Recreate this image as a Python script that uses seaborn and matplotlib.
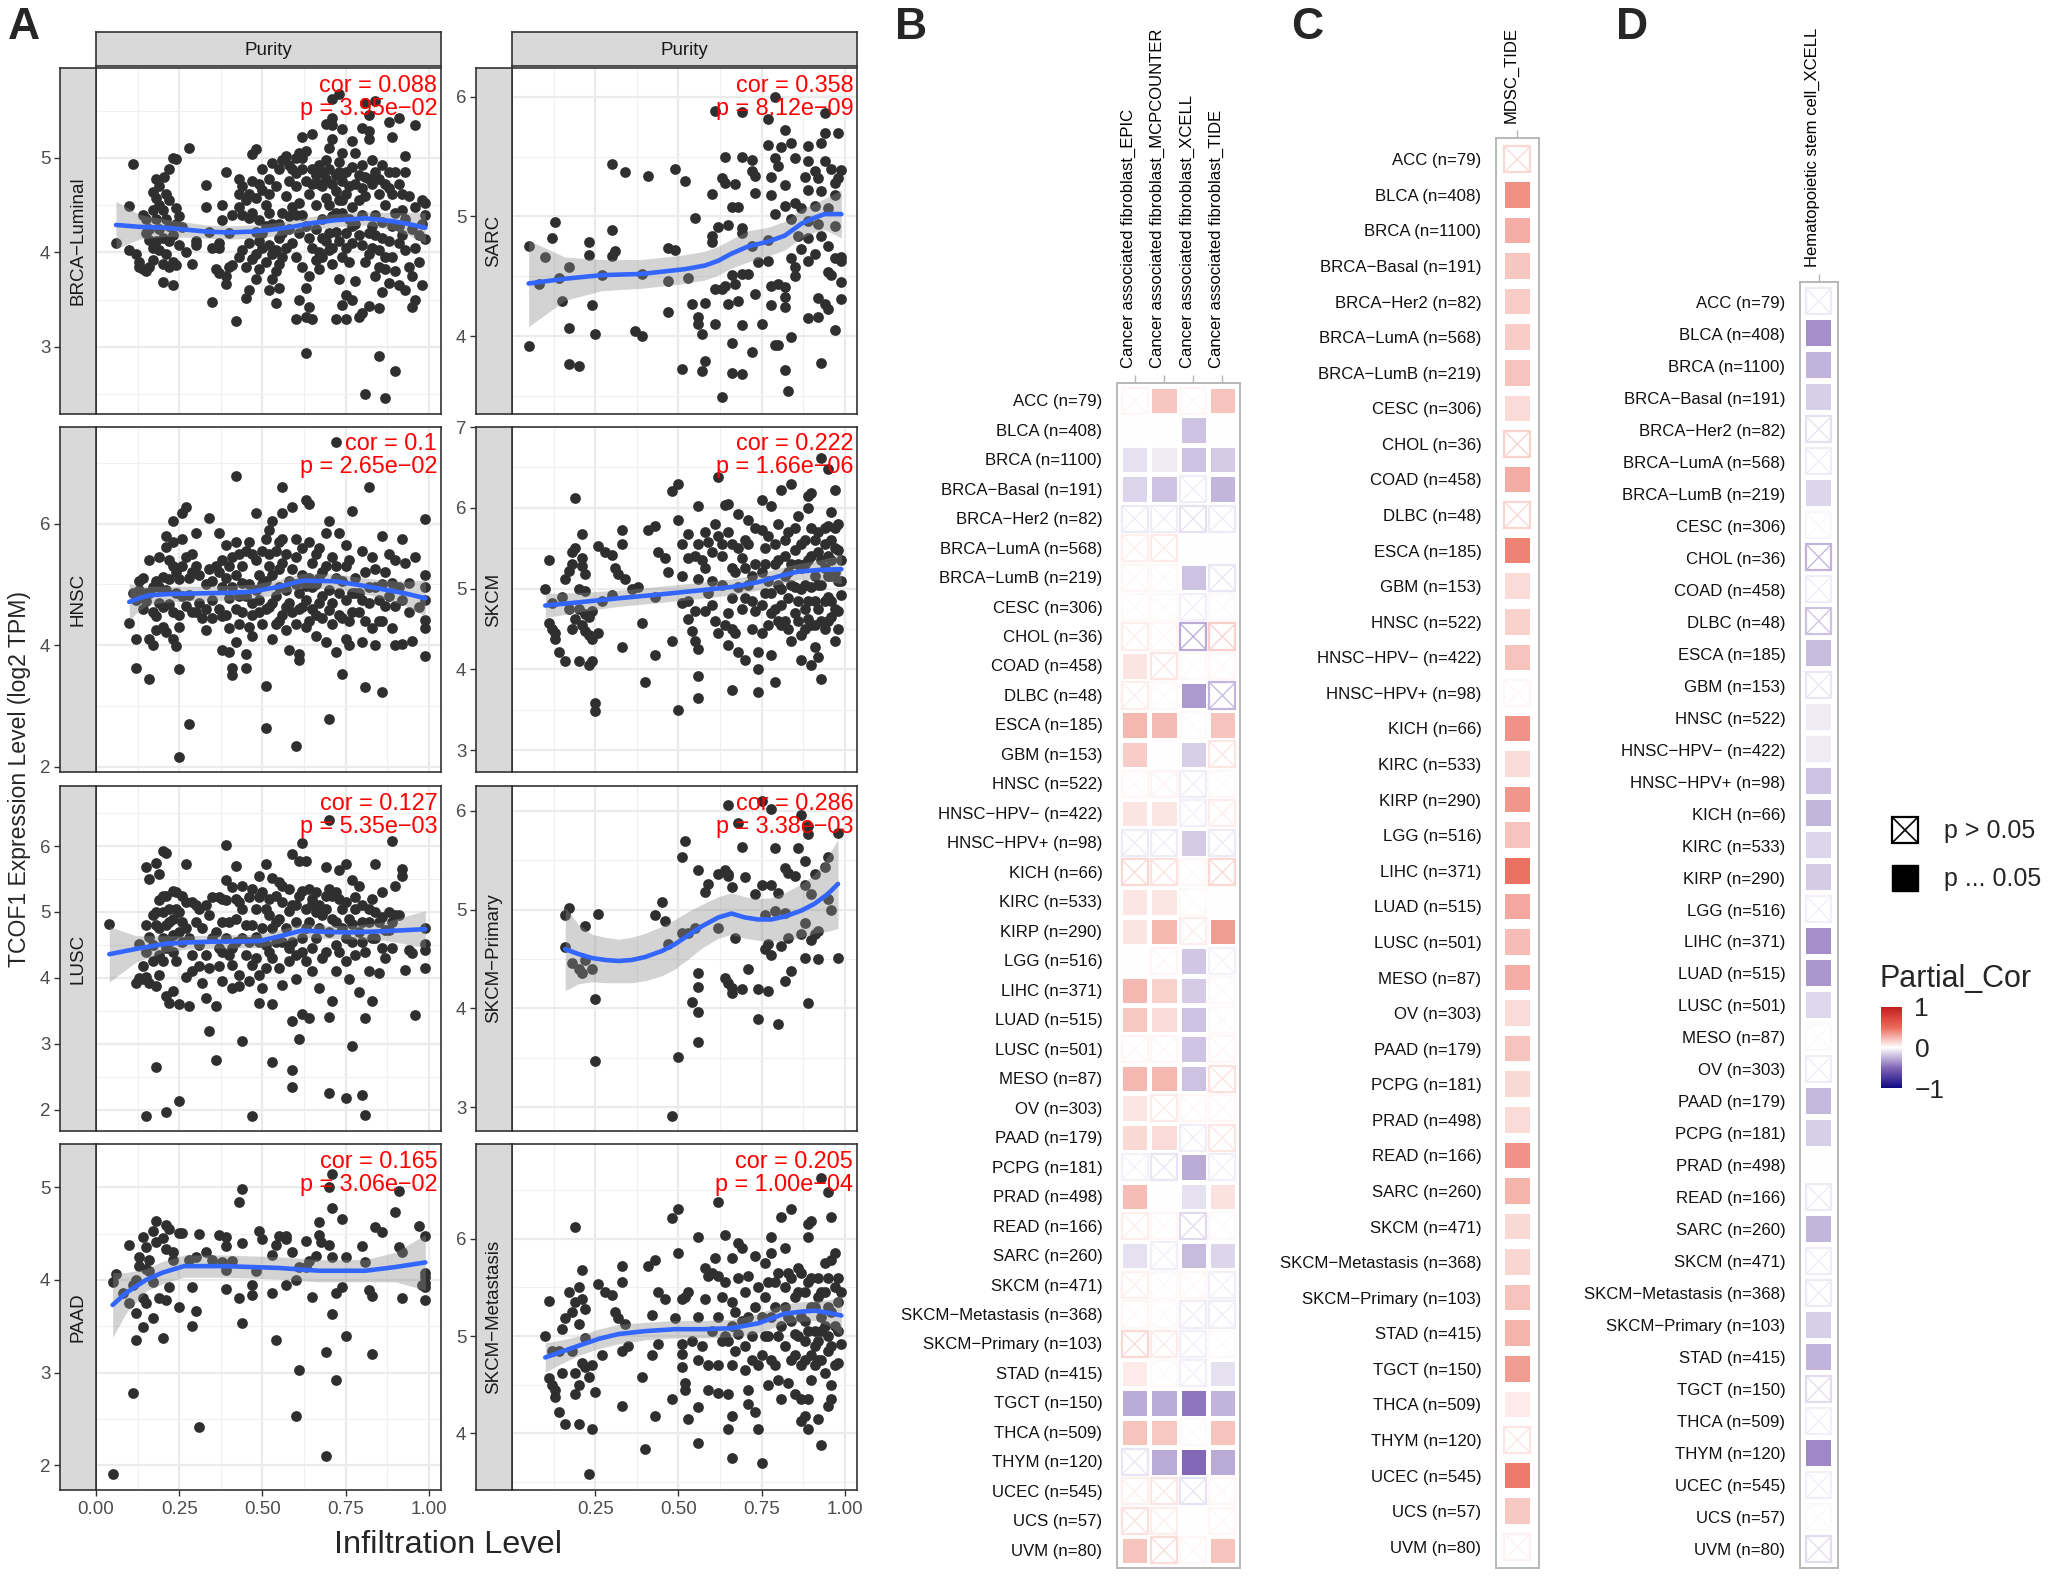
import matplotlib
matplotlib.use("Agg")
import matplotlib.pyplot as plt
import seaborn as sns
import numpy as np
import pandas as pd

from matplotlib.cm import ScalarMappable
from matplotlib.colors import LinearSegmentedColormap, Normalize
from matplotlib.patches import Rectangle
from matplotlib.ticker import AutoMinorLocator
from matplotlib.transforms import ScaledTranslation

W, H = 2050, 1576

# scatter points (infiltration, expression)
brca_pts = [(.06,4.10),(.10,4.49),(.11,4.93),(.10,4.03),(.12,3.98),(.13,3.90),(.13,3.85),(.14,3.82),(.15,3.80),(.16,3.85),(.17,3.92),(.14,4.40),(.15,4.35),(.17,4.64),(.18,4.58),(.18,4.78),(.19,4.70),(.205,4.80),(.21,4.62),(.22,4.88),(.22,4.55),(.23,5.0),(.24,4.99),(.20,4.45),(.21,4.35),(.24,4.47),(.16,4.13),(.18,4.12),(.20,4.15),(.22,4.12),(.25,4.08),(.19,4.02),(.21,3.98),(.23,3.90),(.20,3.88),(.22,3.85),(.24,3.87),(.20,3.69),(.23,3.65),(.28,5.10),(.29,3.88),(.26,4.27),(.27,4.0),(.30,4.12),(.30,4.08),(.25,4.38),(.33,4.71),(.33,4.48),(.34,4.22),(.35,4.05),(.37,4.10),(.38,4.34),(.37,4.05),(.36,3.82),(.37,3.78),(.39,3.75),(.39,3.66),(.40,3.85),(.41,3.87),(.35,3.48),(.42,3.27),(.39,4.85),
(.43,4.78),(.44,4.70),(.43,4.62),(.45,4.55),(.43,4.48),(.44,4.40),(.46,4.36),(.48,5.09),(.47,5.04),(.50,4.88),(.53,4.95),(.52,4.78),(.50,4.66),(.48,4.58),(.51,4.50),(.47,4.42),(.49,4.34),(.46,4.10),(.44,4.02),(.43,3.95),(.47,3.93),(.45,3.85),(.49,3.82),(.48,3.72),(.46,3.60),(.45,3.52),(.52,4.08),(.53,3.98),(.51,3.90),(.54,3.80),(.53,3.72),(.52,3.60),(.55,3.62),(.54,3.46),(.55,4.30),(.56,4.42),(.57,4.60),(.58,4.75),(.58,4.92),(.60,5.00),(.61,5.05),(.62,5.00),(.63,5.07),(.65,4.88),(.65,5.25),(.62,5.22),(.60,4.40),(.61,4.20),(.59,4.10),(.60,3.95),(.62,3.85),(.64,3.75),(.63,3.62),(.61,3.50),(.64,3.42),(.65,3.30),(.60,3.30),(.63,3.32),(.67,4.00),(.66,4.25),(.66,4.50),(.67,4.72),(.68,4.85),(.69,4.98),(.70,5.10),(.71,5.20),(.71,5.35),(.69,5.36),(.71,5.42),(.71,5.62),(.73,5.68),(.74,5.30),(.74,5.05),(.73,4.85),(.72,4.65),(.72,4.42),(.70,4.20),(.70,4.02),(.71,3.88),(.73,3.72),(.75,3.55),(.74,3.44),(.72,3.30),(.75,3.30),(.79,3.32),(.80,3.36),(.82,3.43),(.85,3.41),(.77,3.50),(.78,3.70),(.76,3.90),(.77,4.10),(.78,4.30),(.77,4.48),(.76,4.70),(.77,4.90),(.78,5.05),(.77,5.18),(.80,5.32),(.82,5.28),(.82,5.45),(.81,5.58),(.84,5.60),(.82,5.20),(.83,4.98),(.82,4.78),(.81,4.60),(.80,4.40),(.82,4.20),(.83,4.05),(.81,3.90),(.84,3.75),(.86,3.58),(.88,5.38),(.91,5.42),(.96,5.35),(.89,5.22),(.93,5.02),(.90,4.85),(.88,4.68),(.87,4.50),(.89,4.28),(.88,4.12),(.87,3.95),(.90,3.80),(.91,3.65),(.93,3.60),(.93,4.85),(.94,4.60),(.92,4.45),(.95,4.25),(.96,4.05),(.97,3.90),(.98,3.65),(.96,3.50),(.95,3.42),(.98,4.55),(.99,4.52),(.96,4.48),(.99,4.40),(.98,4.30),(.97,4.18),(.99,4.14),(.63,2.94),(.85,2.90),(.90,2.75),(.81,2.50),(.87,2.46),(.56,4.20),(.58,4.25),(.68,4.35),(.75,4.20),(.79,4.55),(.84,4.40),(.86,4.15),(.91,4.10),(.69,4.58),(.74,4.55),(.64,4.62),(.60,4.70),(.55,4.15),(.50,4.20),(.41,4.40),(.40,4.20),(.38,4.50),
(.16,4.25),(.18,4.35),(.19,4.25),(.15,4.20),(.17,4.05),(.22,4.28),(.23,4.18),(.24,4.30),(.17,4.45),(.19,4.50),(.46,4.62),(.47,4.75),(.49,4.72),(.52,4.62),(.54,4.70),(.55,4.88),(.56,4.98),(.57,5.02),(.59,4.88),(.60,4.84),(.62,4.88),(.63,4.75),(.65,4.72),(.66,4.82),(.67,4.92),(.68,4.70),(.69,4.78),(.70,4.88),(.71,4.72),(.72,4.82),(.73,4.96),(.74,4.75),(.75,4.85),(.75,4.62),(.78,4.72),(.79,4.82),(.80,4.92),(.80,4.68),(.81,4.80),(.83,4.72),(.84,4.85),(.85,4.62),(.85,4.78),(.86,4.92),(.87,4.72),(.88,4.85),(.89,4.62),(.91,4.72),(.92,4.62),(.70,4.50),(.71,4.38),(.73,4.55),(.74,4.42),(.76,4.35),(.77,4.28),(.79,4.18),(.80,4.08),(.82,3.98),(.83,4.28),(.84,4.18),(.85,4.02),(.85,3.85),(.86,4.32),(.74,3.95),(.75,4.05),(.73,4.12),(.72,4.22),(.71,4.05),(.69,4.12),(.68,3.95),(.68,4.15),(.67,3.82),(.66,3.92),(.65,4.05),(.64,4.15),(.63,4.28),(.62,4.40),(.61,4.52),(.59,4.48),(.58,4.38),(.57,4.05),(.56,3.95),(.55,3.88),(.54,4.02),(.53,4.30),(.52,4.42),(.51,4.28),(.50,4.05),(.49,4.12),(.48,4.22),(.48,3.98),(.90,4.42),(.91,4.28),(.92,4.18),(.93,4.02),(.93,4.35),(.94,3.85),(.95,3.75),(.87,3.82),(.88,3.68),(.89,3.95)]

sarc_pts = [(.05,4.75),(.08,4.44),(.10,4.66),(.12,4.82),(.13,4.95),(.17,4.58),(.14,4.49),(.15,4.29),(.17,4.07),(.05,3.92),(.17,3.77),(.20,3.75),(.24,4.26),(.25,4.02),(.23,4.79),(.23,4.68),(.27,4.51),(.30,4.67),(.31,4.71),(.30,4.89),(.30,5.44),(.34,5.37),(.41,5.34),(.49,5.40),(.52,5.30),(.37,4.04),(.39,4.0),(.39,4.52),(.47,4.74),(.49,4.72),(.47,4.46),(.53,4.49),(.47,4.2),(.51,3.73),(.54,4.27),(.58,4.28),(.56,4.16),(.56,4.1),(.57,4.02),(.57,3.71),(.58,3.79),(.55,4.99),(.61,5.88),(.69,5.87),(.77,5.81),(.79,6.0),(.82,5.72),(.94,5.86),(.98,5.70),(.94,5.7),(.93,5.61),(.89,5.59),(.77,5.6),(.81,5.58),(.84,5.61),(.64,5.5),(.69,5.5),(.72,5.47),(.85,5.49),(.79,5.49),(.80,5.42),(.89,5.46),(.94,5.46),(.72,5.38),(.73,5.34),(.63,5.32),(.64,5.28),(.67,5.27),(.78,5.33),(.91,5.38),(.96,5.4),(.99,5.39),(.88,5.33),(.92,5.32),(.98,5.32),(.97,5.28),(.60,5.19),(.73,5.2),(.78,5.18),(.82,5.26),(.89,5.22),(.93,5.21),(.97,5.18),(.66,5.08),(.68,5.08),(.79,5.02),(.82,5.09),(.85,5.11),(.87,5.07),(.91,5.09),(.95,5.07),(.84,4.98),(.89,4.96),(.92,4.94),(.97,4.92),(.65,4.93),(.62,4.91),(.69,4.9),(.60,4.84),(.60,4.79),(.69,4.86),(.72,4.75),(.77,4.8),(.86,4.84),(.89,4.82),(.93,4.84),(.87,4.73),(.91,4.69),(.95,4.75),(.89,4.63),(.84,4.65),(.85,4.58),(.85,4.5),(.97,4.65),(.99,4.66),(.95,4.54),(.99,4.63),(.99,4.45),(.96,4.51),(.71,4.52),(.69,4.52),(.66,4.51),(.74,4.62),(.77,4.63),(.64,4.42),(.61,4.39),(.63,4.39),(.67,4.44),(.73,4.35),(.80,4.44),(.78,4.42),(.82,4.41),(.82,4.33),(.78,4.26),(.82,4.24),(.68,4.29),(.65,4.27),(.61,4.1),(.69,4.09),(.75,4.1),(.89,4.15),(.92,4.16),(.92,4.32),(.94,4.27),(.95,4.23),(.99,4.31),(.97,4.05),(.84,3.99),(.79,3.93),(.80,3.93),(.66,3.94),(.72,3.87),(.93,3.78),(.82,3.72),(.66,3.69),(.69,3.68),(.83,3.54),(.63,3.49)]

hnsc_pts = [(.10,4.37),(.12,3.62),(.16,3.44),(.25,3.61),(.25,2.16),(.28,2.70),(.51,3.32),(.51,2.64),(.42,6.79),(.56,6.61),(.72,7.35),(.82,6.6),(.70,2.79),(.60,2.33),(.81,3.31),(.86,3.22),(.74,3.53),(.99,3.82),(.41,3.51),(.41,3.63),(.45,3.63),(.12,4.10),(.14,4.60),(.13,5.05),(.14,5.10),(.15,4.72),(.16,4.10),(.17,4.0),(.17,4.55),(.16,5.40),(.18,4.25),(.18,4.48),(.19,4.95),(.19,5.45),(.20,5.12),(.20,4.62),(.21,4.22),(.21,5.62),(.21,5.80),(.22,4.68),(.23,6.05),(.23,5.70),(.23,5.30),(.24,4.85),(.23,4.10),(.24,3.98),(.25,4.50),(.25,5.08),(.26,5.30),(.26,5.75),(.26,6.18),(.27,6.27),(.27,4.65),(.29,4.55),(.29,5.20),(.29,5.50),(.30,5.85),(.30,4.55),(.31,5.15),(.33,4.25),(.34,6.10),(.35,5.05),(.35,4.75),(.37,5.85),(.38,5.40),(.38,4.95),(.38,4.48),(.38,3.92),(.39,5.65),(.39,5.10),(.40,5.30),(.40,4.78),(.40,4.28),(.40,3.88),(.42,5.70),(.42,5.15),(.42,4.60),(.42,4.05),(.43,4.35),(.44,5.02),(.44,5.30),(.45,5.55),(.45,4.80),(.45,3.85),(.46,5.70),(.47,4.50),(.47,4.15),(.48,6.18),(.48,5.40),(.48,4.90),(.49,5.15),(.50,4.35),(.51,5.75),(.51,5.05),(.52,4.62),(.52,5.90),(.53,6.05),(.53,4.10),(.54,5.55),(.54,4.80),(.55,5.25),(.55,4.40),(.56,6.18),(.56,5.75),(.57,4.62),(.58,5.05),(.58,3.92),(.59,6.28),(.60,5.75),(.60,5.45),(.60,4.35),(.61,4.85),(.61,3.85),(.61,3.75),(.62,5.15),(.62,4.62),(.63,6.38),(.64,6.32),(.64,5.70),(.64,4.40),(.65,5.35),(.65,4.95),(.66,4.15),(.67,5.60),(.67,4.70),(.68,5.20),(.69,4.05),(.69,5.85),(.70,6.05),(.70,4.58),(.71,5.45),(.72,5.10),(.72,3.88),(.73,5.85),(.73,4.85),(.74,4.45),(.75,5.65),(.75,5.30),(.75,4.10),(.76,4.00),(.77,4.85),(.77,6.20),(.78,5.10),(.79,4.55),(.80,5.55),(.80,4.05),(.81,5.20),(.82,4.70),(.83,4.28),(.83,5.45),(.84,4.95),(.84,4.00),(.85,4.40),(.86,5.80),(.87,5.20),(.87,4.65),(.88,5.50),(.89,4.28),(.89,5.02),(.90,4.00),(.90,5.40),(.92,5.75),(.92,4.75),(.92,4.02),(.94,5.02),(.94,4.55),(.95,4.07),(.96,5.45),(.97,4.62),(.99,6.08),(.99,5.15),(.99,4.95),(.99,4.75),(.99,4.42),(.99,4.28),(.15,4.85),(.20,4.30),(.28,4.82),(.33,5.00),(.47,5.50),(.52,5.30),(.57,4.90),(.63,4.98),(.67,5.10),(.71,4.35),(.76,4.40),(.79,4.85),
(.11,4.85),(.12,4.75),(.13,4.90),(.16,4.85),(.17,4.95),(.18,5.05),(.19,4.70),(.21,4.90),(.22,5.08),(.22,5.40),(.23,4.55),(.24,5.20),(.25,4.30),(.26,4.80),(.27,5.45),(.28,5.10),(.30,5.30),(.31,4.70),(.32,4.45),(.33,4.60),(.34,5.25),(.35,4.45),(.36,5.30),(.37,5.20),(.37,4.60),(.39,4.50),(.41,4.95),(.41,5.45),(.43,5.50),(.43,4.80),(.44,4.55),(.46,5.00),(.46,4.30),(.47,4.70),(.49,4.55),(.49,4.75),(.50,5.55),(.50,5.00),(.51,4.60),(.52,5.50),(.53,5.15),(.53,4.70),(.54,4.35),(.55,5.70),(.55,4.95),(.56,5.35),(.56,4.50),(.57,5.50),(.57,4.25),(.58,4.70),(.59,5.25),(.59,4.55),(.60,5.00),(.61,4.60),(.62,5.60),(.63,4.75),(.63,4.30),(.64,5.10),(.65,4.60),(.66,5.50),(.66,5.00),(.66,4.50),(.68,4.80),(.68,4.45),(.69,5.30),(.70,4.90),(.71,4.70),(.72,5.30),(.73,4.50),(.74,5.05),(.75,4.75),(.76,5.40),(.77,4.55),(.78,4.85),(.80,4.75),(.81,4.40),(.82,4.95),(.84,5.25),(.85,4.75),(.86,4.40),(.86,5.00),(.88,4.80),(.90,4.65),(.91,4.95),(.93,5.35)]

skcm_pts = [(.10,5.0),(.11,5.36),(.11,4.57),(.12,4.50),(.13,4.45),(.13,4.37),(.14,4.22),(.16,4.10),(.16,5.12),(.17,5.22),(.18,5.30),(.18,5.45),(.19,6.12),(.19,4.62),(.19,5.50),(.20,4.10),(.20,4.75),(.21,5.38),(.21,5.28),(.21,5.68),(.22,5.18),(.22,4.97),(.22,4.48),(.23,4.65),(.23,4.42),(.23,4.05),(.24,4.10),(.24,4.38),(.25,3.58),(.25,3.48),(.26,5.53),(.26,4.45),(.28,5.45),(.30,5.42),(.31,5.25),(.32,5.18),(.33,5.72),(.33,5.55),(.33,4.28),(.34,5.12),(.41,5.72),(.43,5.78),(.44,5.45),(.46,5.38),(.40,3.84),(.43,4.18),(.39,4.58),(.48,6.21),(.50,6.30),(.50,5.85),(.48,4.35),(.51,5.55),(.51,4.82),(.50,3.50),(.53,5.68),(.53,4.62),(.53,5.38),(.54,4.48),(.55,4.35),(.56,6.02),(.56,5.55),(.56,5.12),(.56,4.25),(.56,3.92),(.56,3.65),(.58,5.70),(.58,4.72),(.59,5.58),(.60,5.10),(.60,4.80),(.61,5.80),(.62,6.38),(.62,4.45),(.63,5.40),(.63,5.05),(.64,6.04),(.65,6.05),(.65,4.30),(.65,4.70),(.66,5.55),(.66,3.75),(.66,4.88),(.67,5.20),(.68,4.22),(.68,5.92),(.69,5.38),(.70,4.88),(.70,4.12),(.71,5.85),(.71,5.55),(.72,4.50),(.73,5.30),(.74,4.22),(.74,4.00),(.74,3.72),(.75,6.10),(.75,5.72),(.75,4.80),(.76,5.50),(.77,5.10),(.78,4.70),(.78,6.02),(.78,4.18),(.79,5.30),(.79,3.85),(.80,5.80),(.80,5.05),(.81,6.22),(.81,4.55),(.82,5.60),(.83,4.88),(.84,5.30),(.84,6.30),(.84,4.35),(.85,5.48),(.85,5.02),(.85,4.70),(.86,5.90),(.87,5.25),(.87,4.42),(.87,4.12),(.88,5.60),(.88,4.75),(.89,5.35),(.89,6.15),(.89,6.00),(.90,6.18),(.90,5.02),(.90,4.55),(.90,4.05),(.91,5.60),(.91,5.15),(.91,4.28),(.92,5.45),(.92,4.75),(.92,4.15),(.93,3.88),(.93,6.62),(.94,5.25),(.94,4.50),(.95,6.48),(.95,5.78),(.95,5.40),(.95,4.90),(.96,5.95),(.96,5.60),(.96,4.65),(.97,6.22),(.97,5.75),(.97,4.35),(.98,5.48),(.98,5.10),(.98,4.50),(.99,4.92),(.99,5.35),(.68,5.02),(.72,5.15),(.76,4.95),(.82,5.15),(.88,5.05),(.93,5.05),(.96,5.15),(.86,4.60),(.80,4.60),(.55,5.40),(.47,5.20),(.38,5.02),
(.12,4.82),(.15,4.90),(.17,4.75),(.18,4.50),(.20,5.00),(.21,4.55),(.22,4.68),(.24,4.72),(.27,4.85),(.30,4.92),(.36,5.00),(.43,4.90),(.51,5.15),(.53,4.85),(.55,4.72),(.57,5.35),(.58,5.25),(.59,4.95),(.60,5.45),(.61,4.60),(.62,5.65),(.63,5.55),(.64,4.55),(.65,5.70),(.66,5.25),(.66,4.50),(.67,4.45),(.68,5.50),(.69,4.75),(.70,5.60),(.70,5.25),(.71,5.05),(.72,4.85),(.73,5.75),(.73,4.72),(.75,5.20),(.75,4.45),(.76,5.30),(.77,4.55),(.77,5.65),(.78,4.95),(.79,5.55),(.79,4.75),(.80,5.35),(.81,5.00),(.81,4.80),(.82,5.40),(.82,4.60),(.83,5.70),(.83,5.20),(.83,4.50),(.84,5.05),(.85,5.75),(.86,5.30),(.86,4.85),(.87,5.55),(.87,5.00),(.88,5.30),(.88,4.50),(.89,4.85),(.89,4.62),(.90,5.40),(.90,5.75),(.91,4.85),(.91,4.55),(.92,5.05),(.92,5.70),(.93,5.35),(.93,4.60),(.94,5.55),(.94,4.85),(.94,5.75),(.95,5.15),(.95,4.60),(.96,5.35),(.96,4.85),(.97,5.20),(.97,4.75),(.97,5.50),(.98,5.80),(.98,4.72),(.99,5.10)]

lusc_pts = [(.04,4.82),(.12,3.93),(.13,4.52),(.13,4.0),(.14,4.18),(.14,3.98),(.15,5.68),(.15,4.80),(.15,4.02),(.16,5.50),(.16,3.92),(.17,4.95),(.17,4.25),(.18,5.75),(.18,4.80),(.18,3.88),(.19,5.58),(.19,5.18),(.19,4.05),(.20,5.92),(.20,5.0),(.20,4.60),(.20,4.25),(.21,5.90),(.21,5.25),(.21,3.72),(.22,4.85),(.22,3.62),(.23,5.32),(.23,4.40),(.23,3.80),(.24,5.05),(.25,3.60),(.25,4.70),(.26,5.25),(.27,4.02),(.27,5.72),(.28,3.58),(.29,5.15),(.29,4.35),(.30,4.85),(.31,4.18),(.32,3.92),(.33,5.10),(.33,3.70),(.34,4.15),(.34,3.20),(.35,5.22),(.35,4.60),(.36,3.58),(.36,2.76),(.37,5.22),(.37,4.18),(.38,4.85),(.38,4.40),(.38,3.95),(.39,5.48),(.39,6.02),(.39,5.18),(.40,4.35),(.41,5.38),(.41,3.85),(.42,5.70),(.42,4.90),(.43,5.15),(.43,3.88),(.44,3.05),(.44,4.60),(.45,4.35),(.46,5.22),(.46,3.95),(.47,4.80),(.47,4.20),(.47,1.91),(.49,5.55),(.49,5.22),(.49,4.55),(.49,3.62),(.50,3.85),(.51,5.72),(.51,5.05),(.52,4.40),(.53,5.52),(.53,3.60),(.53,2.72),(.54,5.25),(.54,4.85),(.55,4.15),(.56,5.40),(.56,3.90),(.58,5.02),(.59,5.88),(.59,4.55),(.59,3.35),(.59,2.60),(.59,2.35),(.60,5.10),(.60,3.98),(.61,5.78),(.61,3.07),(.62,6.04),(.62,5.32),(.62,4.40),(.62,3.45),(.63,5.78),(.63,4.75),(.64,3.39),(.65,5.12),(.65,4.10),(.66,5.00),(.67,3.85),(.69,5.68),(.69,5.25),(.69,4.40),(.70,6.40),(.70,5.35),(.70,3.41),(.70,2.26),(.71,4.90),(.71,3.65),(.72,4.10),(.73,5.63),(.73,5.20),(.75,2.18),(.75,4.60),(.75,5.72),(.76,3.98),(.77,5.48),(.77,2.97),(.78,5.22),(.78,4.35),(.79,5.40),(.79,3.78),(.80,2.22),(.80,4.85),(.81,3.40),(.81,1.93),(.82,5.05),(.82,4.10),(.83,3.65),(.84,4.60),(.84,5.72),(.85,4.08),(.86,5.30),(.86,4.92),(.87,4.30),(.89,6.08),(.89,4.45),(.90,5.40),(.91,4.95),(.92,5.55),(.92,5.65),(.93,4.12),(.94,4.42),(.95,4.38),(.96,3.44),(.99,4.76),(.99,4.52),(.99,4.42),(.99,4.15),(.18,2.65),(.25,2.14),(.21,1.97),(.15,1.90),(.48,4.62),(.56,4.55),(.66,4.60),(.72,4.50),(.77,4.82),(.83,5.20),(.88,4.72),(.58,4.25),(.52,4.95),(.44,5.05),(.31,5.05),(.27,4.75),(.22,4.55),(.41,4.45),(.68,4.95),(.64,5.35),(.74,5.05),(.80,4.55),
(.15,4.40),(.16,4.62),(.17,4.50),(.18,5.00),(.19,4.75),(.19,4.35),(.20,5.25),(.21,4.80),(.21,4.45),(.22,5.05),(.23,4.90),(.23,4.65),(.24,5.30),(.24,4.25),(.25,5.00),(.26,4.55),(.26,4.85),(.27,5.15),(.28,4.60),(.29,4.10),(.30,5.10),(.31,4.50),(.32,4.75),(.33,4.35),(.34,4.95),(.36,4.70),(.37,4.45),(.38,5.20),(.39,4.60),(.40,4.85),(.41,4.20),(.42,5.20),(.42,4.55),(.43,4.05),(.44,5.40),(.45,4.80),(.46,4.55),(.47,5.35),(.48,5.05),(.48,4.30),(.49,4.05),(.50,5.30),(.50,4.75),(.51,4.50),(.51,4.15),(.52,5.20),(.53,4.75),(.53,4.30),(.54,4.55),(.55,5.45),(.55,4.90),(.56,5.15),(.57,4.75),(.58,5.35),(.58,4.45),(.59,5.10),(.60,4.85),(.60,4.35),(.61,5.25),(.62,4.60),(.63,5.05),(.63,4.25),(.64,4.85),(.65,5.20),(.65,4.45),(.66,5.30),(.67,4.75),(.67,5.10),(.68,4.30),(.69,5.05),(.70,4.70),(.71,5.25),(.72,5.30),(.72,4.85),(.73,4.40),(.74,4.75),(.75,5.15),(.75,4.25),(.76,4.90),(.77,4.55),(.78,5.05),(.79,4.70),(.80,5.10),(.81,4.40),(.82,4.85),(.83,4.60),(.84,5.00),(.85,4.85),(.86,4.45),(.87,4.72),(.88,5.00),(.89,4.85),(.90,4.95)]

primary_pts = [(.16,4.94),(.17,5.02),(.16,4.62),(.18,4.46),(.20,4.4),(.21,4.36),(.22,4.83),(.22,4.49),(.24,4.4),(.25,4.1),(.26,4.96),(.25,3.47),(.43,4.94),(.46,4.88),(.45,5.08),(.47,4.65),(.48,2.91),(.50,3.51),(.51,4.76),(.53,4.76),(.55,4.81),(.51,5.53),(.52,5.69),(.56,5.4),(.58,5.18),(.59,5.26),(.54,4.07),(.56,4.36),(.56,4.22),(.56,3.96),(.56,3.66),(.62,4.81),(.62,5.36),(.64,5.4),(.65,5.36),(.65,5.34),(.65,6.06),(.66,5.23),(.64,4.31),(.65,4.26),(.66,4.21),(.66,4.16),(.69,4.2),(.67,4.71),(.68,5.88),(.69,5.63),(.70,5.33),(.71,4.4),(.73,5.16),(.74,3.89),(.74,4.2),(.75,5.25),(.76,4.94),(.75,6.1),(.78,6.02),(.76,4.6),(.77,4.18),(.77,4.65),(.78,4.54),(.79,5.62),(.78,5.25),(.80,5.17),(.80,3.84),(.79,4.99),(.81,4.63),(.82,4.97),(.82,4.28),(.82,5.42),(.84,4.38),(.83,5.37),(.85,5.34),(.83,4.71),(.86,5.62),(.87,5.96),(.88,5.49),(.88,4.51),(.88,5.25),(.88,4.86),(.87,4.75),(.89,4.05),(.89,5.85),(.89,5.76),(.90,4.69),(.91,5.36),(.91,4.75),(.92,4.5),(.92,4.78),(.94,5.43),(.95,5.53),(.96,5.0),(.95,5.11),(.98,5.77),(.98,4.51),(.90,5.16)]

paad_pts = [(.05,1.90),(.11,2.78),(.31,2.41),(.60,2.53),(.69,2.10),(.61,3.03),(.72,2.92),(.69,3.22),(.75,3.40),(.83,3.20),(.71,3.63),(.54,3.35),(.44,3.54),(.12,3.35),(.20,3.37),(.29,3.5),(.30,3.67),(.14,3.49),(.17,3.59),(.12,3.64),(.05,3.98),(.06,4.07),(.08,3.86),(.10,4.38),(.11,3.95),(.12,4.0),(.10,3.75),(.13,4.25),(.14,4.47),(.15,4.36),(.18,4.64),(.17,4.53),(.21,4.59),(.22,4.55),(.20,4.45),(.18,4.41),(.21,4.33),(.23,4.3),(.23,4.22),(.14,3.80),(.15,3.75),(.19,3.81),(.21,3.78),(.22,3.92),(.25,3.71),(.25,4.51),(.26,4.51),(.31,4.5),(.30,4.25),(.33,4.3),(.29,3.92),(.37,4.49),(.39,4.47),(.39,4.37),(.39,3.9),(.38,4.19),(.39,4.11),(.43,3.81),(.47,3.84),(.47,3.95),(.43,4.84),(.44,4.98),(.44,4.4),(.49,4.53),(.50,4.44),(.53,4.27),(.54,4.38),(.55,4.48),(.57,4.48),(.57,4.44),(.57,3.95),(.59,4.3),(.53,3.86),(.61,4.14),(.60,4.0),(.63,4.42),(.63,4.14),(.65,3.82),(.66,4.26),(.67,4.63),(.67,4.49),(.675,4.41),(.70,4.38),(.71,4.25),(.71,5.15),(.70,5.01),(.71,4.78),(.74,4.66),(.75,4.25),(.74,3.92),(.72,3.86),(.80,4.37),(.81,4.19),(.82,3.89),(.83,3.83),(.84,4.57),(.86,4.52),(.90,4.74),(.91,4.96),(.91,4.36),(.92,4.3),(.92,3.80),(.97,4.58),(.99,4.48),(.99,4.08),(.99,4.03),(.99,3.97),(.98,3.95),(.99,3.92),(.99,3.78),(.16,4.10),(.16,4.22),(.17,3.98),(.13,4.15),(.15,4.12),(.28,4.22),(.35,4.22),(.41,4.20),(.48,4.10),(.64,4.20)]

metastasis_pts = [(.10,5.0),(.11,5.36),(.11,4.57),(.12,4.85),(.12,4.50),(.13,4.45),(.13,4.37),(.14,4.22),(.14,4.85),(.15,5.07),(.15,4.62),(.16,4.10),(.16,5.18),(.17,5.45),(.18,5.25),(.18,4.85),(.19,5.35),(.19,6.12),(.19,4.62),(.19,4.40),(.20,5.50),(.20,5.12),(.20,4.10),(.20,4.50),(.21,5.38),(.21,4.72),(.21,5.68),(.22,5.28),(.22,4.98),(.22,4.68),(.23,3.58),(.23,4.58),(.24,4.70),(.24,4.05),(.25,4.43),(.26,5.53),(.27,4.80),(.28,5.45),(.30,5.42),(.31,5.25),(.32,5.18),(.33,5.72),(.33,5.55),(.33,4.28),(.33,4.85),(.34,5.12),(.35,4.90),(.39,4.58),(.40,3.84),(.41,5.72),(.42,5.22),(.42,4.80),(.43,5.78),(.43,4.18),(.44,5.45),(.44,4.92),(.46,5.38),(.48,6.21),(.48,4.35),(.49,5.18),(.50,5.85),(.50,6.30),(.51,5.38),(.51,4.82),(.51,4.68),(.51,4.92),(.52,5.40),(.52,4.52),(.52,4.45),(.53,4.15),(.53,5.45),(.54,4.95),(.56,6.02),(.56,5.20),(.56,4.75),(.56,4.27),(.56,3.90),(.57,4.90),(.58,5.70),(.58,5.38),(.59,5.62),(.59,4.70),(.59,4.45),(.60,5.65),(.60,5.05),(.61,5.80),(.62,6.38),(.62,5.20),(.62,4.42),(.62,4.70),(.63,5.40),(.64,6.04),(.64,5.55),(.65,4.05),(.65,4.95),(.65,4.40),(.66,5.80),(.66,5.35),(.66,3.75),(.66,4.18),(.66,4.70),(.67,5.25),(.68,5.95),(.68,5.02),(.69,5.90),(.70,4.65),(.71,4.45),(.71,4.30),(.71,5.20),(.72,5.00),(.73,4.22),(.73,5.82),(.74,5.50),(.74,4.05),(.75,3.70),(.75,4.80),(.76,5.75),(.76,5.40),(.77,5.00),(.77,4.50),(.78,6.02),(.78,5.85),(.78,5.20),(.79,5.55),(.79,4.70),(.80,5.00),(.81,6.22),(.81,4.35),(.82,5.90),(.82,5.50),(.82,4.90),(.83,5.20),(.83,4.52),(.84,6.30),(.84,5.60),(.84,4.75),(.85,5.40),(.85,5.02),(.85,4.40),(.86,5.70),(.87,5.20),(.87,4.35),(.87,4.13),(.88,5.45),(.88,4.75),(.88,4.18),(.89,6.15),(.89,6.02),(.89,5.05),(.89,4.35),(.89,4.05),(.90,6.18),(.90,5.60),(.90,4.55),(.91,5.30),(.91,4.90),(.92,5.60),(.92,4.75),(.92,4.15),(.93,5.45),(.93,3.88),(.93,6.62),(.93,5.05),(.94,4.62),(.94,5.75),(.95,6.48),(.95,5.30),(.95,4.28),(.95,4.85),(.96,6.22),(.96,5.78),(.96,4.50),(.96,4.35),(.97,5.50),(.97,5.10),(.98,5.35),(.98,4.72),(.99,4.92),(.99,5.45),
(.62,5.62),(.63,4.95),(.64,5.00),(.66,5.10),(.67,4.85),(.68,5.60),(.69,5.15),(.70,4.90),(.70,5.45),(.71,5.62),(.72,4.75),(.73,5.30),(.74,4.70),(.75,5.20),(.76,5.00),(.77,5.55),(.78,4.75),(.79,5.30),(.80,5.65),(.80,4.55),(.81,5.10),(.82,5.30),(.83,5.65),(.84,5.15),(.85,4.80),(.86,5.45),(.86,5.00),(.87,5.65),(.87,4.70),(.88,5.15),(.88,4.95),(.89,5.55),(.90,5.30),(.90,4.80),(.91,5.05),(.91,4.70),(.92,5.40),(.92,4.95),(.93,5.20),(.93,4.75),(.94,5.45),(.94,5.10),(.95,5.60),(.95,5.00),(.96,4.90),(.96,5.25),(.97,4.70),(.97,5.85),(.98,5.05),(.98,5.60)]

# fitted curves: x, y and half width of the band
brca_fit = ([.06,.13,.21,.27,.33,.40,.47,.53,.59,.65,.72,.81,.89,.94,.99], [4.29,4.27,4.26,4.24,4.22,4.21,4.22,4.24,4.27,4.31,4.34,4.36,4.33,4.30,4.26], [.25,.13,.09,.08,.07,.07,.07,.07,.07,.07,.07,.07,.09,.12,.16])
sarc_fit = ([.05,.16,.27,.39,.52,.58,.62,.66,.71,.77,.82,.87,.91,.94,.99], [4.44,4.48,4.51,4.52,4.56,4.59,4.63,4.69,4.75,4.79,4.84,4.94,4.99,5.02,5.02], [.36,.18,.13,.12,.12,.12,.12,.12,.13,.12,.12,.12,.12,.13,.2])
hnsc_fit = ([.10,.13,.16,.22,.30,.40,.47,.55,.62,.72,.80,.86,.93,.99], [4.71,4.77,4.82,4.84,4.85,4.86,4.88,4.96,5.06,5.05,4.98,4.92,4.85,4.77], [.3,.2,.15,.13,.12,.12,.12,.12,.12,.12,.13,.15,.2,.3])
skcm_fit = ([.10,.20,.32,.45,.57,.66,.74,.80,.86,.92,.99], [4.79,4.83,4.88,4.93,4.98,5.02,5.08,5.15,5.21,5.23,5.24], [.15,.12,.1,.1,.1,.1,.1,.1,.1,.12,.18])
lusc_fit = ([.04,.12,.21,.28,.35,.49,.55,.62,.69,.76,.87,.99], [4.36,4.44,4.52,4.54,4.55,4.56,4.63,4.72,4.70,4.69,4.71,4.74], [.42,.2,.12,.1,.1,.1,.1,.1,.1,.1,.14,.28])
primary_fit = ([.16,.20,.24,.28,.32,.36,.40,.45,.49,.53,.57,.62,.66,.70,.74,.78,.82,.87,.91,.95,.98], [4.60,4.55,4.51,4.49,4.48,4.49,4.52,4.58,4.65,4.74,4.83,4.92,4.96,4.92,4.90,4.90,4.93,4.99,5.06,5.16,5.26], [.42,.3,.24,.23,.22,.23,.24,.25,.25,.24,.22,.21,.21,.21,.21,.22,.24,.27,.3,.38,.45])
paad_fit = ([.05,.09,.15,.20,.265,.32,.385,.47,.55,.67,.81,.90,.99], [3.73,3.86,4.0,4.08,4.15,4.15,4.15,4.14,4.13,4.10,4.10,4.14,4.19], [.35,.22,.12,.12,.12,.12,.12,.12,.12,.12,.12,.16,.3])
metastasis_fit = ([.10,.15,.20,.26,.32,.40,.49,.58,.66,.74,.78,.82,.87,.91,.95,.99], [4.78,4.84,4.90,4.97,5.02,5.05,5.07,5.07,5.08,5.13,5.18,5.23,5.25,5.26,5.24,5.21], [.15,.12,.1,.1,.1,.09,.09,.09,.09,.1,.1,.1,.1,.1,.13,.2])

cancers = ["ACC (n=79)", "BLCA (n=408)", "BRCA (n=1100)", "BRCA−Basal (n=191)", "BRCA−Her2 (n=82)",
           "BRCA−LumA (n=568)", "BRCA−LumB (n=219)", "CESC (n=306)", "CHOL (n=36)", "COAD (n=458)",
           "DLBC (n=48)", "ESCA (n=185)", "GBM (n=153)", "HNSC (n=522)", "HNSC−HPV− (n=422)",
           "HNSC−HPV+ (n=98)", "KICH (n=66)", "KIRC (n=533)", "KIRP (n=290)", "LGG (n=516)",
           "LIHC (n=371)", "LUAD (n=515)", "LUSC (n=501)", "MESO (n=87)", "OV (n=303)",
           "PAAD (n=179)", "PCPG (n=181)", "PRAD (n=498)", "READ (n=166)", "SARC (n=260)",
           "SKCM (n=471)", "SKCM−Metastasis (n=368)", "SKCM−Primary (n=103)", "STAD (n=415)", "TGCT (n=150)",
           "THCA (n=509)", "THYM (n=120)", "UCEC (n=545)", "UCS (n=57)", "UVM (n=80)"]

fibro_cols = ["Cancer associated fibroblast_EPIC", "Cancer associated fibroblast_MCPCOUNTER",
              "Cancer associated fibroblast_XCELL", "Cancer associated fibroblast_TIDE"]
fibro_epic = [.03,0,-.1,-.14,-.07,.05,.025,.02,.06,.09,.06,.24,.17,.025,.09,-.07,.13,.08,.09,0,.24,.18,.03,.24,.08,.13,-.04,.22,.06,-.1,.05,.025,.13,.07,-.27,.2,-.08,.05,.1,.2]
fibro_mcp = [.19,0,-.07,-.2,-.06,.07,.02,.02,.025,.08,.02,.23,0,.035,.08,-.06,.1,.08,.24,.03,.15,.12,.03,.24,.07,.12,-.08,0,.025,-.05,.02,.02,.07,.02,-.28,.18,-.28,.08,.06,.11]
fibro_xcell = [.03,-.2,-.2,-.06,-.1,0,-.2,-.05,-.28,.02,-.33,.02,-.16,-.06,-.05,-.17,.03,.02,.06,-.18,-.17,-.2,-.19,-.2,.025,-.06,-.27,-.1,-.12,-.22,.025,-.06,-.05,-.05,-.45,.02,-.5,-.09,0,.025]
fibro_tide = [.2,0,-.17,-.24,-.07,0,-.08,.02,.16,.03,-.24,.2,.08,.02,.06,-.07,.13,0,.33,-.04,.02,.02,.025,.1,.025,.08,-.05,.1,.02,-.14,-.05,-.06,.02,-.1,-.25,.2,-.28,.03,.025,.2]
# 1 = p > 0.05
fibro_epic_ns = [1,0,0,0,1,1,1,1,1,0,1,0,0,1,0,1,1,0,0,0,0,0,1,0,0,0,1,0,1,0,1,1,1,0,0,0,1,1,1,0]
fibro_mcp_ns = [0,0,0,0,1,1,1,1,1,1,1,0,0,1,0,1,1,0,0,1,0,0,1,0,1,0,1,0,1,1,1,1,1,1,0,0,0,1,1,1]
fibro_xcell_ns = [1,0,0,1,1,0,0,1,1,1,0,1,0,1,1,0,1,1,1,0,0,0,0,0,1,1,0,0,1,0,1,1,1,1,0,1,0,1,0,1]
fibro_tide_ns = [0,0,0,0,1,0,1,1,1,1,1,0,1,1,1,1,1,0,0,1,1,1,1,1,1,1,1,0,1,0,1,1,1,0,0,0,0,1,1,0]

mdsc_vals = [.13,.37,.27,.19,.17,.17,.2,.12,.15,.28,.14,.42,.12,.15,.2,.03,.36,.11,.35,.2,.47,.29,.22,.27,.12,.2,.13,.12,.36,.25,.13,.14,.2,.25,.33,.07,.08,.44,.18,.04]
mdsc_ns = [1,0,0,0,0,0,0,0,1,0,1,0,0,0,0,1,0,0,0,0,0,0,0,0,0,0,0,0,0,0,0,0,0,0,0,0,1,0,0,1]

hsc_vals = [-.07,-.36,-.25,-.16,-.1,-.06,-.14,-.03,-.25,-.06,-.2,-.22,-.08,-.07,-.07,-.2,-.24,-.14,-.17,-.05,-.36,-.34,-.13,-.02,-.06,-.23,-.16,0,-.07,-.24,-.06,-.07,-.16,-.25,-.11,-.05,-.39,-.05,-.02,-.11]
hsc_ns = [1,0,0,0,1,1,0,1,1,1,1,0,1,0,0,0,0,0,0,1,0,0,0,1,1,0,0,0,1,0,1,1,0,0,1,1,0,1,1,1]

sns.set_style("white")
plt.rcParams["font.family"] = ["Liberation Sans", "DejaVu Sans"]

cor_cmap = LinearSegmentedColormap.from_list(
    "cor", [(0, "#100a82"), (.25, "#8266b6"), (.5, "#ffffff"), (.75, "#ea6a5a"), (1, "#c41e1e")])
norm = Normalize(-1, 1)

fig = plt.figure(figsize=(W / 100, H / 100), dpi=100)


def px_axes(left, top, right, bottom, **kw):
    return fig.add_axes([left / W, 1 - bottom / H, (right - left) / W, (bottom - top) / H], **kw)


def draw_panel(box, strip_left, pts, fit, ylim, yticks, name, cor, p, show_x, show_top):
    left, top, right, bottom = box
    ax = px_axes(left, top, right, bottom)
    df = pd.DataFrame(pts, columns=["x", "y"])
    sns.scatterplot(data=df, x="x", y="y", ax=ax, color="#2f2f2f", s=60, linewidth=0, zorder=2, legend=False)
    fx, fy, half = [np.array(a) for a in fit]
    ax.fill_between(fx, fy - half, fy + half, color="#8c8c8c", alpha=.38, linewidth=0, zorder=3)
    sns.lineplot(x=fx, y=fy, ax=ax, color="#3366FF", linewidth=3.3, zorder=4, errorbar=None)
    ax.set_xlim(0, 1.037)
    ax.set_ylim(*ylim)
    ax.set_xticks([0, .25, .5, .75, 1])
    ax.set_yticks(yticks)
    ax.xaxis.set_minor_locator(AutoMinorLocator(2))
    ax.yaxis.set_minor_locator(AutoMinorLocator(2))
    ax.grid(which="major", color="#ebebeb", linewidth=1.6, zorder=0)
    ax.grid(which="minor", color="#f0f0f0", linewidth=.8, zorder=0)
    ax.set_axisbelow(True)
    ax.set_xlabel("")
    ax.set_ylabel("")
    ax.tick_params(axis="y", which="both", left=False, labelleft=False)
    ax.tick_params(axis="x", which="minor", length=0)
    for s in ax.spines.values():
        s.set_color("#333333")
        s.set_linewidth(1.2)
    if show_x:
        ticklabels = ["0.00", "0.25", "0.50", "0.75", "1.00"] if strip_left < 100 else ["", "0.25", "0.50", "0.75", "1.00"]
        ax.set_xticklabels(ticklabels)
        ax.tick_params(axis="x", which="major", length=4, width=1, color="#333333", labelsize=13.5,
                       labelcolor="#4d4d4d", pad=4, bottom=True)
        if strip_left > 100:
            ax.xaxis.get_major_ticks()[0].tick1line.set_visible(False)
    else:
        ax.tick_params(axis="x", which="both", bottom=False, labelbottom=False)

    # side strip carries the y ticks, as in the facet layout
    st = px_axes(strip_left, top, left, bottom, facecolor="#d9d9d9")
    st.set_ylim(*ylim)
    st.set_xlim(0, 1)
    st.set_xticks([])
    st.set_yticks(yticks)
    st.tick_params(axis="y", length=4, width=1, color="#333333", labelsize=13.5, labelcolor="#4d4d4d", pad=3, left=True)
    for s in st.spines.values():
        s.set_color("#333333")
        s.set_linewidth(1.2)
    st.text(.5, .5, name, transform=st.transAxes, rotation=90, ha="center", va="center", fontsize=13.5, color="#1a1a1a")

    if show_top:
        tp = px_axes(left, top - 36, right, top - 2, facecolor="#d9d9d9")
        tp.set_xticks([])
        tp.set_yticks([])
        for s in tp.spines.values():
            s.set_color("#333333")
            s.set_linewidth(1.2)
        tp.text(.5, .47, "Purity", transform=tp.transAxes, ha="center", va="center", fontsize=13.5, color="#1a1a1a")

    ht = bottom - top
    ax.text(.989, 1 - 17 / ht, "cor = " + cor, transform=ax.transAxes, ha="right", va="center",
            color="red", fontsize=16.8, zorder=6)
    ax.text(.989, 1 - 40 / ht, "p = " + p, transform=ax.transAxes, ha="right", va="center",
            color="red", fontsize=16.8, zorder=6)


col1 = (60, 96, 441)
col2 = (476, 512, 857)
rows = [(68, 414), (427, 772), (786, 1131), (1144, 1490)]

panels = [
    (col1, rows[0], brca_pts, brca_fit, (2.29, 5.95), [3, 4, 5], "BRCA−Luminal", "0.088", "3.95e−02"),
    (col2, rows[0], sarc_pts, sarc_fit, (3.35, 6.24), [4, 5, 6], "SARC", "0.358", "8.12e−09"),
    (col1, rows[1], hnsc_pts, hnsc_fit, (1.91, 7.59), [2, 4, 6], "HNSC", "0.1", "2.65e−02"),
    (col2, rows[1], skcm_pts, skcm_fit, (2.73, 7.0), [3, 4, 5, 6, 7], "SKCM", "0.222", "1.66e−06"),
    (col1, rows[2], lusc_pts, lusc_fit, (1.68, 6.91), [2, 3, 4, 5, 6], "LUSC", "0.127", "5.35e−03"),
    (col2, rows[2], primary_pts, primary_fit, (2.76, 6.25), [3, 4, 5, 6], "SKCM−Primary", "0.286", "3.38e−03"),
    (col1, rows[3], paad_pts, paad_fit, (1.73, 5.47), [2, 3, 4, 5], "PAAD", "0.165", "3.06e−02"),
    (col2, rows[3], metastasis_pts, metastasis_fit, (3.42, 6.97), [4, 5, 6], "SKCM−Metastasis", "0.205", "1.00e−04"),
]
for i, (col, row, pts, fit, ylim, yticks, name, cor, p) in enumerate(panels):
    draw_panel((col[1], row[0], col[2], row[1]), col[0], pts, fit, ylim, yticks, name, cor, p, i >= 6, i < 2)


def draw_heat(box, values, ns, columns, cell_gap, label_dy=0):
    left, top, right, bottom = box
    ax = px_axes(left, top, right, bottom)
    vals = pd.DataFrame(values, index=cancers, columns=columns)
    hidden = pd.DataFrame(ns, index=cancers, columns=columns).astype(bool)
    row_px = (bottom - top) / 40.2
    gap = cell_gap / row_px
    sns.heatmap(vals, mask=hidden, cmap=cor_cmap, vmin=-1, vmax=1, cbar=False, ax=ax,
                linewidths=cell_gap * .72, linecolor="white", square=False)
    # p > 0.05 cells are outlined and crossed instead of filled
    for r, c in zip(*np.nonzero(hidden.values)):
        col = cor_cmap(norm(vals.values[r, c]))
        x0, y0 = c + gap / 2, r + gap / 2
        x1, y1 = c + 1 - gap / 2, r + 1 - gap / 2
        ax.add_patch(Rectangle((x0, y0), x1 - x0, y1 - y0, fill=False, edgecolor=col, linewidth=1.6, zorder=3))
        ax.plot([x0, x1], [y0, y1], color=col, linewidth=.9, zorder=3)
        ax.plot([x0, x1], [y1, y0], color=col, linewidth=.9, zorder=3)
    ax.set_xlim(-.1, len(columns) + .1)
    ax.set_ylim(40.1, -.1)
    ax.xaxis.tick_top()
    ax.tick_params(axis="x", rotation=90, length=6, width=1, color="#b5b5b5", labelsize=12, labelcolor="black", pad=5)
    ax.tick_params(axis="y", rotation=0, length=5.5, width=1, color="#b5b5b5", labelsize=12.1, labelcolor="#111111", pad=5)
    # the column labels sit a little left of their ticks
    for lab in ax.get_xticklabels():
        lab.set_transform(lab.get_transform() + ScaledTranslation(-6 / 100, 0, fig.dpi_scale_trans))
    if label_dy:
        for lab in ax.get_yticklabels():
            lab.set_transform(lab.get_transform() + ScaledTranslation(0, -label_dy / 100, fig.dpi_scale_trans))
    ax.set_xlabel("")
    ax.set_ylabel("")
    for s in ax.spines.values():
        s.set_visible(True)
        s.set_color("#b8b8b8")
        s.set_linewidth(1.4)


fibro_vals = np.column_stack([fibro_epic, fibro_mcp, fibro_xcell, fibro_tide])
fibro_hide = np.column_stack([fibro_epic_ns, fibro_mcp_ns, fibro_xcell_ns, fibro_tide_ns])
draw_heat((1117, 383, 1240, 1568), fibro_vals, fibro_hide, fibro_cols, 3.4, 1)
draw_heat((1496, 138, 1538.5, 1568), np.array(mdsc_vals)[:, None], np.array(mdsc_ns)[:, None], ["MDSC_TIDE"], 9.6, 1.5)
draw_heat((1800, 282, 1837.5, 1568), np.array(hsc_vals)[:, None], np.array(hsc_ns)[:, None],
          ["Hematopoietic stem cell_XCELL"], 6, 2)

# colour bar
cax = px_axes(1881, 1007, 1902, 1088)
cb = fig.colorbar(ScalarMappable(norm=norm, cmap=cor_cmap), cax=cax)
cb.set_ticks([-1, 0, 1], labels=["−1", "0", "1"])
cb.ax.tick_params(length=0, labelsize=19, pad=9)
cb.outline.set_visible(False)

# everything placed by hand on the page: panel letters, shared labels, legend
over = fig.add_axes([0, 0, 1, 1], facecolor="none")
over.set_xlim(0, W)
over.set_ylim(H, 0)
over.axis("off")
for letter, x in [("A", 8), ("B", 895), ("C", 1291), ("D", 1616)]:
    over.text(x, 27, letter, fontsize=32, fontweight="bold", ha="left", va="center")
over.text(448, 1545, "Infiltration Level", fontsize=23.4, ha="center", va="center")
over.text(20, 779, "TCOF1 Expression Level (log2 TPM)", fontsize=16.6, rotation=90, ha="center", va="center")
over.add_patch(Rectangle((1892, 817), 26, 26, fill=False, edgecolor="black", linewidth=1.6))
over.plot([1892, 1918], [817, 843], color="black", linewidth=1.2)
over.plot([1892, 1918], [843, 817], color="black", linewidth=1.2)
over.add_patch(Rectangle((1892, 865), 26, 26, facecolor="black", edgecolor="black"))
over.text(1944, 831, "p > 0.05", fontsize=18, ha="left", va="center")
over.text(1944, 879, "p ... 0.05", fontsize=18, ha="left", va="center")
over.text(1880, 979, "Partial_Cor", fontsize=22, ha="left", va="center")

fig.savefig("out.png", dpi=100)
